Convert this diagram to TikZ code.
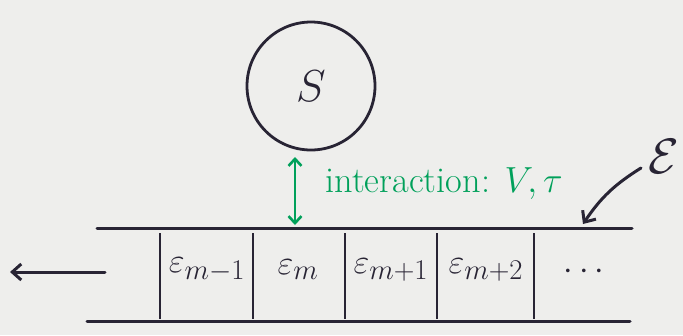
\documentclass[tikz,border=0pt]{standalone}
\usetikzlibrary{arrows.meta}
\definecolor{paper}{RGB}{238,238,236}
\definecolor{ink}{RGB}{40,36,52}
\definecolor{grn}{RGB}{0,160,90}
\begin{document}
\begin{tikzpicture}[x=1pt,y=-1pt,
  inkline/.style={draw=ink,line width=3pt,line cap=round},
  cellrule/.style={draw=ink,line width=2.6pt},
  cellname/.style={text=ink,font=\Huge,scale=1.38},
  arrowtip/.style={-{Straight Barb[length=9pt,width=16pt]}}]
\fill[paper] (0,0) rectangle (683,335);
\useasboundingbox (0,0) rectangle (683,335);
% system S
\node[circle,draw=ink,line width=2.8pt,minimum size=128pt,inner sep=0pt] (S) at (311,86) {};
\node[text=ink,font=\Huge,scale=1.8] (Slabel) at (S.center) {$S$};
% chain rails
\coordinate (tl) at (97,228); \coordinate (tr) at (632,228);
\coordinate (bl) at (87,321); \coordinate (br) at (630,321);
\draw[inkline] (tl) -- (tr);
\draw[inkline] (bl) -- (br);
% dividers
\foreach \x/\n in {160/a,253/b,345/c,437/d,534/e}{
  \coordinate (\n t) at (\x,233); \coordinate (\n b) at (\x,319);
  \draw[cellrule] (\n t) -- (\n b);
}
% cell labels
\node[cellname] (e1) at (207,270) {$\varepsilon_{m-1}$};
\node[cellname] (e2) at (298,270) {$\varepsilon_{m}$};
\node[cellname] (e3) at (391,270) {$\varepsilon_{m+1}$};
\node[cellname] (e4) at (486,270) {$\varepsilon_{m+2}$};
\node[cellname] (e5) at (584,272) {$\cdots$};
% left arrow
\coordinate (la) at (105,272); \coordinate (lb) at (10,272);
\draw[inkline,arrowtip] (la) -- (lb);
% interaction arrow
\coordinate (ia) at (295,157); \coordinate (ib) at (295,225);
\draw[draw=grn,line width=2.6pt,{Straight Barb[length=7pt,width=13pt]}-{Straight Barb[length=7pt,width=13pt]}] (ia) -- (ib);
\node[text=grn,font=\LARGE,scale=2.1,anchor=west,inner sep=0pt] (int) at (325,184) {interaction: $V,\tau$};
% environment label
\node[text=ink,font=\Huge,scale=2] (E) at (664,156) {$\mathcal{E}$};
\coordinate (es) at (641,168);
\coordinate (et) at (583,224);
\draw[inkline,arrowtip] (es) to[bend right=12] (et);
\end{tikzpicture}
\end{document}
